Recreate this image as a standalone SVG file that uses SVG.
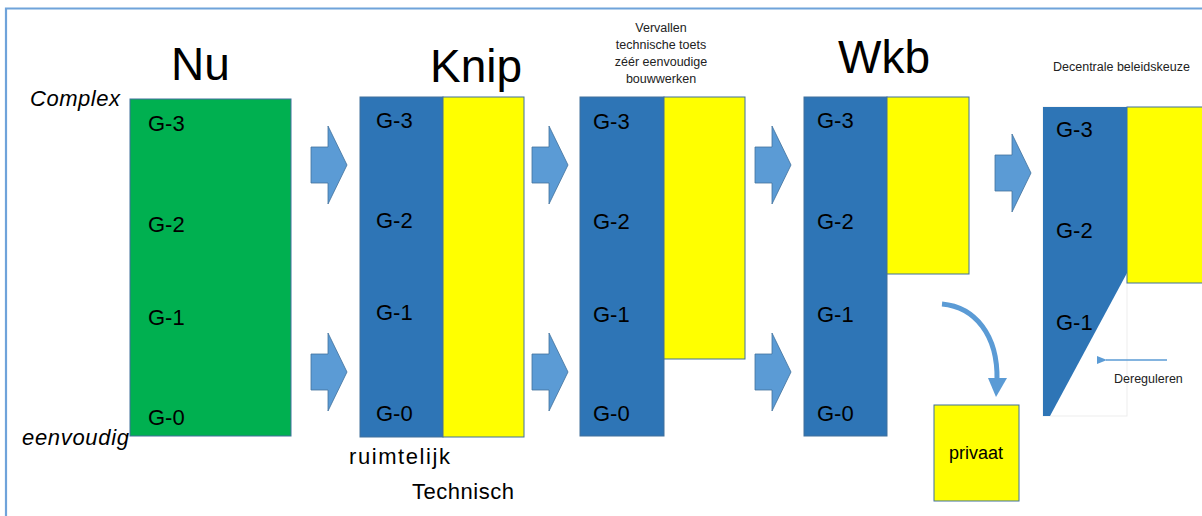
<svg xmlns="http://www.w3.org/2000/svg" width="1202" height="516" viewBox="0 0 1202 516">
<style>
  text { font-family: "Liberation Sans", Arial, sans-serif; fill: #000; }
  .g { font-size: 22px; }
  .title { font-size: 46px; }
  .small { font-size: 12.5px; fill: #222; }
  .ital { font-size: 22px; font-style: italic; }
  .lbl { font-size: 22px; }
  .blue { fill: #2E75B6; stroke: #41719C; stroke-width: 1; }
  .yellow { fill: #FFFF00; stroke: #41719C; stroke-width: 1; }
  .green { fill: #00B050; stroke: #41719C; stroke-width: 1; }
  .barrow { fill: #5B9BD5; stroke: #41719C; stroke-width: 0.8; }
</style>
<defs>
  <polygon id="blockArrow" points="0,21 17,21 17,0 36,39 17,78 17,57 0,57" class="barrow"/>
  <marker id="ah" markerWidth="10" markerHeight="8" refX="1" refY="4" orient="auto" markerUnits="userSpaceOnUse">
    <polygon points="10,0 0,4 10,8" fill="#5B9BD5"/>
  </marker>
</defs>
<rect width="1202" height="516" fill="#fff"/>
<path d="M6,520 V8.5 H1210" fill="none" stroke="#6FA3DA" stroke-width="2.2"/>

<g id="labels-axis">
  <text class="ital" x="30" y="106" textLength="90" lengthAdjust="spacing">Complex</text>
  <text class="ital" x="22" y="445" textLength="107" lengthAdjust="spacing">eenvoudig</text>
</g>

<g id="node-nu">
  <text class="title" x="171" y="80">Nu</text>
  <rect class="green" x="130" y="99" width="161" height="337"/>
  <text class="g" x="148" y="131">G-3</text>
  <text class="g" x="148" y="232">G-2</text>
  <text class="g" x="148" y="325">G-1</text>
  <text class="g" x="148" y="425">G-0</text>
</g>

<g id="node-knip">
  <text class="title" x="430" y="82">Knip</text>
  <rect class="blue" x="360" y="97" width="83" height="340"/>
  <rect class="yellow" x="443" y="97" width="81" height="340"/>
  <text class="g" x="376" y="128">G-3</text>
  <text class="g" x="376" y="228">G-2</text>
  <text class="g" x="376" y="320">G-1</text>
  <text class="g" x="376" y="421">G-0</text>
  <text class="lbl" x="349" y="464" textLength="101" lengthAdjust="spacing">ruimtelijk</text>
  <text class="lbl" x="412" y="499" textLength="102" lengthAdjust="spacing">Technisch</text>
</g>

<g id="node-vervallen">
  <text class="small" text-anchor="middle" x="661" y="32">Vervallen</text>
  <text class="small" text-anchor="middle" x="661" y="49">technische toets</text>
  <text class="small" text-anchor="middle" x="661" y="66">zéér eenvoudige</text>
  <text class="small" text-anchor="middle" x="661" y="83">bouwwerken</text>
  <rect class="blue" x="580" y="97" width="84" height="339"/>
  <rect class="yellow" x="664" y="97" width="81" height="262"/>
  <text class="g" x="593" y="129">G-3</text>
  <text class="g" x="593" y="229">G-2</text>
  <text class="g" x="593" y="322">G-1</text>
  <text class="g" x="593" y="421">G-0</text>
</g>

<g id="node-wkb">
  <text class="title" x="838" y="73">Wkb</text>
  <rect class="blue" x="804" y="97" width="83" height="339"/>
  <rect class="yellow" x="887" y="97" width="82" height="177"/>
  <text class="g" x="817" y="128">G-3</text>
  <text class="g" x="817" y="229">G-2</text>
  <text class="g" x="817" y="322">G-1</text>
  <text class="g" x="817" y="421">G-0</text>
</g>

<g id="node-privaat">
  <rect class="yellow" x="934" y="405" width="85" height="96"/>
  <text x="976" y="459" text-anchor="middle" style="font-size:18px">privaat</text>
</g>

<g id="node-decentraal">
  <text class="small" x="1053" y="71">Decentrale beleidskeuze</text>
  <rect x="1043" y="107" width="84" height="309" fill="none" stroke="#EDEDED" stroke-width="1"/>
  <rect class="yellow" x="1127" y="107" width="80" height="176"/>
  <polygon points="1043,107 1127,107 1127,273 1050,416 1043,416" fill="#2E75B6"/>
  <text class="g" x="1056" y="137">G-3</text>
  <text class="g" x="1056" y="238">G-2</text>
  <text class="g" x="1056" y="330">G-1</text>
  <text class="small" x="1114" y="383">Dereguleren</text>
</g>

<g id="connectors">
  <use href="#blockArrow" x="311" y="126"/>
  <use href="#blockArrow" x="311" y="333"/>
  <use href="#blockArrow" x="532" y="126"/>
  <use href="#blockArrow" x="532" y="333"/>
  <use href="#blockArrow" x="755" y="126"/>
  <use href="#blockArrow" x="755" y="333"/>
  <use href="#blockArrow" x="995" y="134"/>
  <path d="M942,304 C975,307 998,335 997,380" fill="none" stroke="#5B9BD5" stroke-width="5"/>
  <polygon points="988,378 1007,378 996,397" fill="#5B9BD5"/>
  <line x1="1167" y1="360" x2="1106" y2="360" stroke="#5B9BD5" stroke-width="1.3" marker-end="url(#ah)"/>
</g>
</svg>
